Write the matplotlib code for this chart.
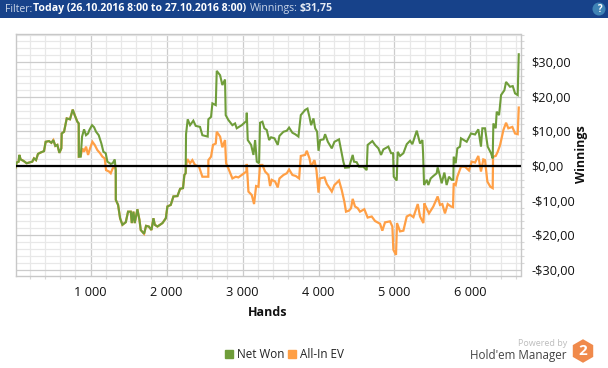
import matplotlib
matplotlib.use("Agg")
import matplotlib.pyplot as plt
from matplotlib.lines import Line2D
from matplotlib.patches import Rectangle, RegularPolygon, Circle
from matplotlib.ticker import MultipleLocator, FuncFormatter

plt.rcParams['font.family'] = ['Open Sans', 'DejaVu Sans']

# (hands, dollars)
shared_start = [(15,-0.4),(28,1.0),(54,1.25),(63,3.2),(81,1.9),(116,1.5),(160,0.8),(191,1.0),(234,1.25),(256,2.2),(283,1.7),(309,3.5),(344,3.9),(388,4.3),(410,7.0),(454,7.2),(485,6.7),(511,7.5),(537,5.8),(564,6.1),(590,3.8),(616,5.1),(621,9.4),(652,9.9),(687,13.75),(730,13.5),(766,16.3),(792,14.7),(827,12.8),(845,12.3),(846,2.7)]
net_a = [(871,2.7),(889,8.5),(915,10.6),(941,8.9),(968,9.4),(985,10.4),(1020,11.8),(1047,11.2),(1073,9.9),(1108,8.9),(1143,6.5),(1170,4.1),(1200,3.7),(1222,1.25),(1266,0.6),(1292,0.8),(1319,1.9),(1332,-1.2)]
ev_a = [(871,2.9),(893,5.1),(915,4.1),(941,5.6),(968,3.2),(994,5.1),(1025,7),(1055,6.1),(1090,4.6),(1126,3.7),(1156,2.7),(1187,2.2),(1205,-1.2),(1244,-1.6),(1266,-2.1),(1292,-0.7),(1319,0),(1332,-1.2)]
shared_mid = [(1333,-9.8),(1363,-11.25),(1389,-15.1),(1420,-17),(1464,-16.25),(1494,-13.2),(1530,-13.2),(1543,-16.5),(1565,-13.2),(1582,-16.5),(1617,-12.5),(1644,-15.6),(1661,-18.5),(1705,-19.6),(1731,-17.3),(1767,-17.5),(1802,-18.5),(1828,-15.1),(1846,-17),(1881,-17.5),(1947,-16.5),(1991,-15.1),(2012,-11.7),(2056,-11.25),(2091,-8.8),(2144,-8.7),(2179,-6.6),(2217,-6.4),(2235,-2.6),(2252,-2.1)]
net_b = [(2257,9.2),(2279,13.5),(2310,11.8),(2353,13.1),(2384,11.6),(2441,11.3),(2472,8.9),(2542,8.5),(2551,13.5),(2586,14.2),(2604,18.1),(2648,17.6),(2661,27.5),(2705,26.25),(2735,23.4),(2770,25),(2779,14.7),(2814,13.3),(2867,11.8),(2902,12.3),(2924,10.9),(2990,11.8),(3051,13),(3056,15.4),(3069,7.5),(3113,6.1),(3144,3.2),(3166,7.5),(3188,1.25),(3218,0.8),(3231,12.5),(3262,12.8),(3288,10.9),(3319,10.4),(3350,7.5),(3376,8.3),(3420,8),(3464,6.1),(3486,8.7),(3539,9.9),(3583,10.2),(3613,11.1),(3657,9.6),(3692,9.2),(3736,8.5),(3767,14.7),(3824,16.2),(3855,16.6),(3881,14.2),(3903,11.8),(3934,13.75),(3956,10.9),(3982,9.9),(4000,4.4),(4022,7.5),(4066,7.7),(4087,9.2),(4123,7),(4175,5.1),(4210,7),(4270,7.7),(4305,3.7),(4327,1.25),(4349,-0.5),(4401,-0.4),(4423,1.25),(4450,3.2),(4467,1.25),(4502,1.1),(4533,-0.2),(4590,-0.2),(4634,-1.2),(4647,6.1),(4709,7.2),(4744,6.1),(4788,5.1),(4823,3.2),(4854,4.8),(4919,5.6),(4955,3.7),(4981,3.7),(4990,-3.1),(5029,-4.2),(5042,4.1),(5073,2.9),(5117,3.7),(5161,6.3),(5205,7.3),(5235,6.3),(5293,10.2),(5336,6.5),(5367,7.5),(5376,3.7),(5389,-5.5),(5424,-4),(5445,-5.5),(5476,-3.6),(5511,-2.9),(5555,-2.1),(5568,-0.4),(5599,-2.9),(5621,-5),(5656,-1.9),(5686,-5.5),(5717,-3.1),(5752,-4),(5774,-4),(5779,2.7),(5805,0.8),(5827,5.1),(5862,5.6),(5875,8),(5950,7),(6007,9.4),(6060,9.1),(6103,10.6),(6138,5.6),(6156,10.9),(6191,10.9),(6226,5.6),(6270,3.7),(6292,2.2),(6301,12.3),(6332,10.9),(6345,15.7),(6376,14.7),(6402,20.5),(6446,21.9),(6468,24.3),(6520,22.9),(6556,23.1),(6586,21),(6621,20.5),(6635,32.3)]
ev_b = [(2257,-0.2),(2274,2),(2310,0.8),(2340,1.7),(2375,0.3),(2428,-0.2),(2472,-3.1),(2550,-3.1),(2551,1.7),(2586,2.7),(2612,6.1),(2648,6.5),(2661,9.9),(2705,8.5),(2735,5.4),(2770,7.5),(2784,0.8),(2814,-0.7),(2867,-3.6),(2911,-3.1),(2946,-3.3),(2990,-2.6),(3051,-1.6),(3056,0.6),(3078,-7.4),(3122,-8.4),(3152,-11),(3179,-5.8),(3210,-6),(3231,0.3),(3262,0.3),(3297,-1.6),(3341,-2.6),(3363,-5.8),(3385,-4),(3429,-4.5),(3464,-6.2),(3486,-3.6),(3539,-2.6),(3583,-2.1),(3613,-1),(3657,-2.6),(3701,-2.9),(3745,-3.6),(3767,2.9),(3824,3.2),(3846,4.4),(3881,2.2),(3903,-0.2),(3947,1.7),(3973,-1.2),(4000,-7.7),(4017,-3.6),(4079,-3.3),(4110,-5.2),(4175,-7.4),(4210,-5.5),(4270,-4.2),(4305,-6.9),(4340,-10.3),(4362,-13.2),(4401,-12.9),(4428,-12.2),(4450,-9.5),(4480,-11.7),(4516,-12.2),(4546,-13.2),(4603,-12.5),(4647,-14.9),(4700,-14.6),(4744,-15.9),(4810,-16.7),(4840,-18.7),(4875,-16.3),(4941,-16),(4972,-17.5),(4985,-24.2),(5020,-25.7),(5033,-16.5),(5073,-18.9),(5117,-18.7),(5161,-14.6),(5205,-14.1),(5249,-14.8),(5306,-11),(5336,-14.6),(5380,-16.5),(5393,-10.8),(5401,-11.25),(5454,-13.7),(5511,-11.7),(5568,-8.8),(5599,-11.25),(5629,-11),(5664,-13.7),(5700,-11),(5743,-11.7),(5770,-11.9),(5779,-5),(5805,-5.5),(5827,-3.1),(5875,-0.2),(5928,-0.2),(5980,-1.3),(6016,1.25),(6060,1),(6103,2.9),(6138,-1.6),(6169,1.9),(6191,1.7),(6222,-4.5),(6261,-6),(6292,-6.4),(6297,2.7),(6332,2.9),(6358,4.1),(6389,6),(6433,10.4),(6468,12.5),(6498,10.9),(6551,11.3),(6586,9.4),(6621,9.2),(6635,16.9)]
net_won = shared_start + net_a + shared_mid + net_b
all_in_ev = shared_start + ev_a + shared_mid + ev_b

series_names = ["Net Won", "All-In EV"]
title_parts = ["Filter:", "Today (26.10.2016 8:00 to 27.10.2016 8:00)", "Winnings:", "$31,75"]

GREEN, ORANGE = "#6f9d3a", "#ff9f45"
W, H = 608, 368
fig = plt.figure(figsize=(W/100, H/100), dpi=100)
ax = fig.add_axes([15.5/W, 1-276/H, 505/W, 242.5/H])
ax.set_xlim(13, 6658)
ax.set_ylim(-31.8, 38.3)

ax.xaxis.set_major_locator(MultipleLocator(1000))
ax.xaxis.set_minor_locator(MultipleLocator(200))
ax.yaxis.set_major_locator(MultipleLocator(10))
ax.yaxis.set_minor_locator(MultipleLocator(2))
ax.grid(True, which='major', color='#cccccc', lw=0.9)
ax.grid(True, which='minor', color='#e8e8e8', lw=0.9)
ax.set_axisbelow(True)
for s in ax.spines.values():
    s.set_color('#c8c8c8'); s.set_linewidth(1.0)
ax.yaxis.tick_right()
ax.xaxis.set_major_formatter(FuncFormatter(lambda v, p: f"{int(v):,}".replace(",", " ")))
ax.yaxis.set_major_formatter(FuncFormatter(lambda v, p: ("-" if v < 0 else "") + f"${abs(v):.2f}".replace(".", ",")))
ax.tick_params(which='major', length=0, labelsize=9.2, labelcolor='#111111')
ax.tick_params(which='minor', length=2.5, color='#d8d8d8', width=0.8)
ax.tick_params(axis='x', which='major', pad=7)
ax.tick_params(axis='y', which='major', pad=8)

ax.plot(*zip(*all_in_ev), color=ORANGE, lw=1.6, solid_joinstyle='miter', zorder=3)
ax.plot(*zip(*net_won), color=GREEN, lw=1.5, solid_joinstyle='miter', zorder=4)
ax.axhline(0, color='black', lw=1.6, zorder=5)

fig.text(268/W, 1-313/H, "Hands", fontsize=9, fontweight='bold', ha='center', va='center', color='#111111')
fig.text(582/W, 1-154/H, "Winnings", fontsize=9, fontweight='bold', rotation=90, ha='center', va='center', color='#111111')

# header bar
fig.add_artist(Rectangle((0, 1-18/H), 1, 18/H, transform=fig.transFigure, color='#17428a', lw=0))
xpos = [5, 33, 250, 300]
weights = ['normal', 'bold', 'normal', 'bold']
cols = ['#c9d5e8', 'white', '#c9d5e8', '#e4eaf4']
for x, t, w, c in zip(xpos, title_parts, weights, cols):
    fig.text(x/W, 1-9/H, t, fontsize=7.6, fontweight=w, color=c, ha='left', va='center')
pxtr = fig.dpi_scale_trans
fig.add_artist(Circle((599/100, (H-9)/100), 0.065, transform=pxtr, color='#3f83b5', lw=0))
fig.text(599/W, 1-9/H, "?", fontsize=7, fontweight='bold', color='white', ha='center', va='center')

# legend
handles = [Line2D([], [], ls='', marker='s', ms=5.2, color=c) for c in (GREEN, ORANGE)]
fig.legend(handles, series_names, loc='center', bbox_to_anchor=(283/W, 1-354.5/H), ncol=2, frameon=False,
           fontsize=8.4, handletextpad=0.1, columnspacing=0.1, labelcolor='#222222', handlelength=1.2)

# branding
fig.text(567/W, 1-343/H, "Powered by", fontsize=6.5, color='#bdbdbd', ha='right', va='center')
fig.text(567/W, 1-355/H, "Hold'em Manager", fontsize=8.4, color='#444444', ha='right', va='center')
fig.add_artist(RegularPolygon((583/100, (H-351)/100), 6, radius=0.118, transform=pxtr, color='#f08a4b', lw=0))
fig.text(583/W, 1-351/H, "2", fontsize=11, fontweight='bold', color='white', ha='center', va='center')

fig.savefig("out.png", dpi=100)
